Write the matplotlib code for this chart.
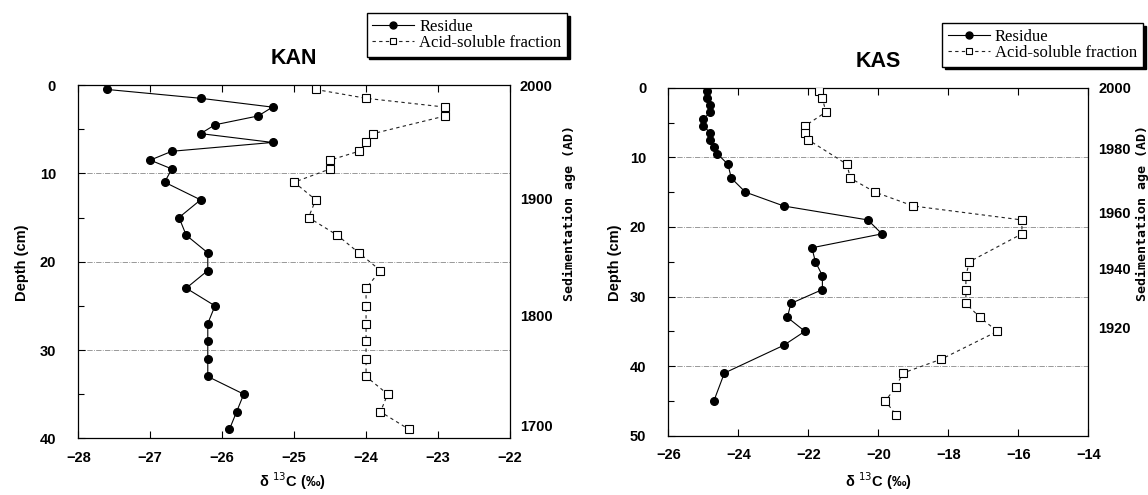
import matplotlib
matplotlib.use('Agg')
import matplotlib.pyplot as plt
from matplotlib.ticker import MultipleLocator

# KAN core: depth (cm) and d13C (permil)
kan_res_depth = [0.5, 1.5, 2.5, 3.5, 4.5, 5.5, 6.5, 7.5, 8.5, 9.5,
                 11, 13, 15, 17, 19, 21, 23, 25, 27, 29, 31, 33, 35, 37, 39]
kan_res_d13c = [-27.6, -26.3, -25.3, -25.5, -26.1, -26.3, -25.3, -26.7, -27.0, -26.7,
                -26.8, -26.3, -26.6, -26.5, -26.2, -26.2, -26.5, -26.1, -26.2, -26.2,
                -26.2, -26.2, -25.7, -25.8, -25.9]
kan_acid_depth = [0.5, 1.5, 2.5, 3.5, 5.5, 6.5, 7.5, 8.5, 9.5,
                  11, 13, 15, 17, 19, 21, 23, 25, 27, 29, 31, 33, 35, 37, 39]
kan_acid_d13c = [-24.7, -24.0, -22.9, -22.9, -23.9, -24.0, -24.1, -24.5, -24.5,
                 -25.0, -24.7, -24.8, -24.4, -24.1, -23.8, -24.0, -24.0, -24.0, -24.0,
                 -24.0, -24.0, -23.7, -23.8, -23.4]
kan_ages = ['2000', '1900', '1800', '1700']
kan_age_depth = [0, 12.9, 26.1, 38.6]

# KAS core
kas_res_depth = [0.5, 1.5, 2.5, 3.5, 4.5, 5.5, 6.5, 7.5, 8.5, 9.5,
                 11, 13, 15, 17, 19, 21, 23, 25, 27, 29, 31, 33, 35, 37, 41, 45]
kas_res_d13c = [-24.9, -24.9, -24.8, -24.8, -25.0, -25.0, -24.8, -24.8, -24.7, -24.6,
                -24.3, -24.2, -23.8, -22.7, -20.3, -19.9, -21.9, -21.8, -21.6, -21.6,
                -22.5, -22.6, -22.1, -22.7, -24.4, -24.7]
kas_acid_depth = [0.5, 1.5, 3.5, 5.5, 6.5, 7.5, 11, 13, 15, 17, 19, 21,
                  25, 27, 29, 31, 33, 35, 39, 41, 43, 45, 47]
kas_acid_d13c = [-21.7, -21.6, -21.5, -22.1, -22.1, -22.0, -20.9, -20.8, -20.1, -19.0,
                 -15.9, -15.9, -17.4, -17.5, -17.5, -17.5, -17.1, -16.6, -18.2, -19.3,
                 -19.5, -19.8, -19.5]
kas_ages = ['2000', '1980', '1960', '1940', '1920']
kas_age_depth = [0, 8.8, 17.9, 26.0, 34.4]

SANS = ['Liberation Sans', 'DejaVu Sans']
SERIF = ['Liberation Serif', 'DejaVu Serif']
MONO = ['DejaVu Sans Mono']


def panel(ax, rx, rd, ax_, ad, xlim, xstep, dmax, ages, age_d, title, leg_anchor):
    ax.plot(rx, rd, '-', color='black', lw=0.8, marker='o', ms=5.5,
            mfc='black', mec='black', label='Residue', zorder=3)
    ax.plot(ax_, ad, color='#222222', lw=0.8, ls=(0, (3, 3)), marker='s', ms=5.5,
            mfc='white', mec='black', mew=0.8, label='Acid-soluble fraction', zorder=3)
    ax.set_xlim(*xlim)
    ax.set_ylim(dmax, 0)
    ax.xaxis.set_major_locator(MultipleLocator(xstep))
    ax.yaxis.set_major_locator(MultipleLocator(10))
    ax.yaxis.set_minor_locator(MultipleLocator(5))
    ax.tick_params(which='both', direction='in', top=True, right=True)
    ax.tick_params(which='major', length=5, width=0.8, pad=9)
    ax.tick_params(which='minor', length=4, width=0.8)
    ax.tick_params(axis='y', which='major', pad=16)
    for lab in ax.get_xticklabels() + ax.get_yticklabels():
        lab.set_family(SANS)
        lab.set_fontsize(10.5)
        lab.set_fontweight('bold')
    ax.yaxis.grid(True, ls='-.', color='#888888', lw=0.6)
    for s in ax.spines.values():
        s.set_linewidth(0.9)
    ax.set_title(title, fontsize=15.5, fontweight='bold', family=SANS, pad=15)

    # age scale on the right-hand side
    tax = ax.twinx()
    tax.set_ylim(dmax, 0)
    tax.set_yticks(age_d)
    tax.set_yticklabels(ages, family=SANS, fontsize=10.5, fontweight='bold')
    tax.tick_params(axis='y', length=0, pad=7)
    for s in tax.spines.values():
        s.set_visible(False)

    leg = ax.legend(loc='upper right', bbox_to_anchor=leg_anchor,
                    bbox_transform=ax.figure.transFigure, numpoints=1,
                    handlelength=2.5, handletextpad=0.3, borderpad=0.35,
                    labelspacing=0.0, borderaxespad=0, fancybox=False,
                    framealpha=1, edgecolor='black',
                    prop={'family': SERIF, 'size': 12},
                    shadow={'color': 'black', 'alpha': 1, 'ox': 2, 'oy': -2})
    leg.get_frame().set_linewidth(1.0)
    for h in leg.legend_handles:
        h.set_markersize(5)


fig = plt.figure(figsize=(11.48, 4.95), dpi=100)
ax1 = fig.add_axes([0.0682, 0.1145, 0.3760, 0.7137])
ax2 = fig.add_axes([0.5822, 0.1198, 0.3659, 0.7030])

panel(ax1, kan_res_d13c, kan_res_depth, kan_acid_d13c, kan_acid_depth,
      (-28, -22), 1, 40, kan_ages, kan_age_depth, 'KAN', (0.4939, 0.9737))
panel(ax2, kas_res_d13c, kas_res_depth, kas_acid_d13c, kas_acid_depth,
      (-26, -14), 2, 50, kas_ages, kas_age_depth, 'KAS', (0.9956, 0.9535))

# axis titles
for xc, yc in [(0.019, 0.47), (0.536, 0.47)]:
    fig.text(xc, yc, 'Depth (cm)', rotation=90, ha='center', va='center',
             family=SANS, fontsize=10.5, fontweight='bold')
for xc in [0.496, 0.995]:
    fig.text(xc, 0.57, 'Sedimentation age (AD)', rotation=90, ha='center',
             va='center', family=MONO, fontsize=9.5, fontweight='bold')
for xc in [0.255, 0.765]:
    fig.text(xc, 0.027, '\u03b4 $^{13}$C (\u2030)', ha='center', va='center',
             family=SANS, fontsize=10.5, fontweight='bold')

fig.savefig('out.png', dpi=100)
